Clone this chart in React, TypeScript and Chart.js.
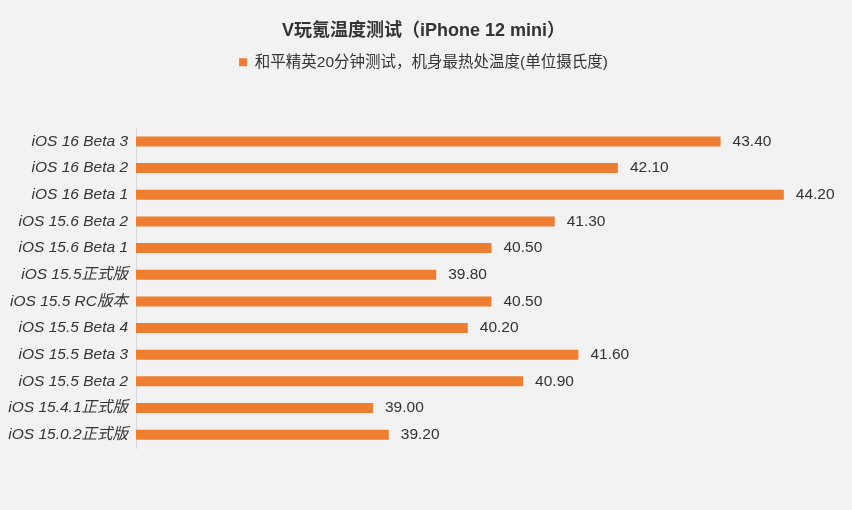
import React, { useEffect, useRef } from "react";
import { Chart, registerables } from "chart.js";

Chart.register(...registerables);

const titleText = "V玩氪温度测试（iPhone 12 mini）";
const seriesName = "和平精英20分钟测试，机身最热处温度(单位摄氏度)";
const categories = [
  "iOS 16 Beta 3",
  "iOS 16 Beta 2",
  "iOS 16 Beta 1",
  "iOS 15.6 Beta 2",
  "iOS 15.6 Beta 1",
  "iOS 15.5正式版",
  "iOS 15.5 RC版本",
  "iOS 15.5 Beta 4",
  "iOS 15.5 Beta 3",
  "iOS 15.5 Beta 2",
  "iOS 15.4.1正式版",
  "iOS 15.0.2正式版",
];
const temperatures = [43.4, 42.1, 44.2, 41.3, 40.5, 39.8, 40.5, 40.2, 41.6, 40.9, 39.0, 39.2];
const axisMin = 36;
const axisMax = 45;

const FONT = "'Liberation Sans', 'Noto Sans CJK SC', sans-serif";
const ORANGE = "#ED7D31";
const TEXT = "#333333";

const valueLabels = {
  id: "valueLabels",
  afterDatasetsDraw(chart: any) {
    const ctx = chart.ctx;
    const meta = chart.getDatasetMeta(0);
    ctx.save();
    ctx.font = `15.5px ${FONT}`;
    ctx.fillStyle = TEXT;
    ctx.textAlign = "left";
    ctx.textBaseline = "middle";
    meta.data.forEach((bar: any, i: number) => {
      const v = chart.data.datasets[0].data[i] as number;
      ctx.fillText(v.toFixed(2), bar.x + 12, bar.y);
    });
    ctx.restore();
  },
};

const legendSpacer = {
  id: "legendSpacer",
  beforeLayout(chart: any) {
    const lg = chart.legend;
    if (lg && !lg.__patched) {
      const orig = lg.fit;
      lg.fit = function () {
        orig.call(this);
        this.height += 48;
      };
      lg.__patched = true;
    }
  },
};

const bgPlugin = {
  id: "bg",
  beforeDraw(chart: any) {
    const ctx = chart.ctx;
    ctx.save();
    ctx.fillStyle = "#f2f2f2";
    ctx.fillRect(0, 0, chart.width, chart.height);
    ctx.restore();
  },
};

export default function App() {
  const ref = useRef<HTMLCanvasElement | null>(null);
  useEffect(() => {
    if (!ref.current) return;
    const chart = new Chart(ref.current, {
      type: "bar",
      data: {
        labels: categories,
        datasets: [
          {
            label: seriesName,
            data: temperatures,
            backgroundColor: ORANGE,
            borderWidth: 0,
            barPercentage: 0.75,
            categoryPercentage: 0.5,
          },
        ],
      },
      options: {
        indexAxis: "y",
        animation: false,
        responsive: true,
        maintainAspectRatio: false,
        layout: { padding: { left: 0, right: 5, top: 0, bottom: 62 } },
        scales: {
          x: {
            display: false,
            min: axisMin,
            max: axisMax,
          },
          y: {
            grid: { display: false, drawTicks: false },
            border: { display: true, color: "#d9d9d9", width: 1 },
            ticks: {
              color: TEXT,
              font: { family: FONT, size: 15.5, style: "italic" },
              padding: 8,
            },
            afterFit(scale: any) {
              scale.width = 136;
            },
          },
        },
        plugins: {
          title: {
            display: true,
            text: titleText,
            color: TEXT,
            font: { family: FONT, size: 18, weight: "bold" },
            padding: { top: 20, bottom: 3 },
          },
          legend: {
            display: true,
            labels: {
              color: TEXT,
              font: { family: FONT, size: 15.5 },
              boxWidth: 8,
              boxHeight: 8,
            },
          },
          tooltip: { enabled: false },
        },
      },
      plugins: [bgPlugin, legendSpacer, valueLabels],
    });
    return () => chart.destroy();
  }, []);
  return (
    <div style={{ position: "absolute", left: 0, top: 0, width: 852, height: 510, background: "#f2f2f2" }}>
      <canvas ref={ref} />
    </div>
  );
}
